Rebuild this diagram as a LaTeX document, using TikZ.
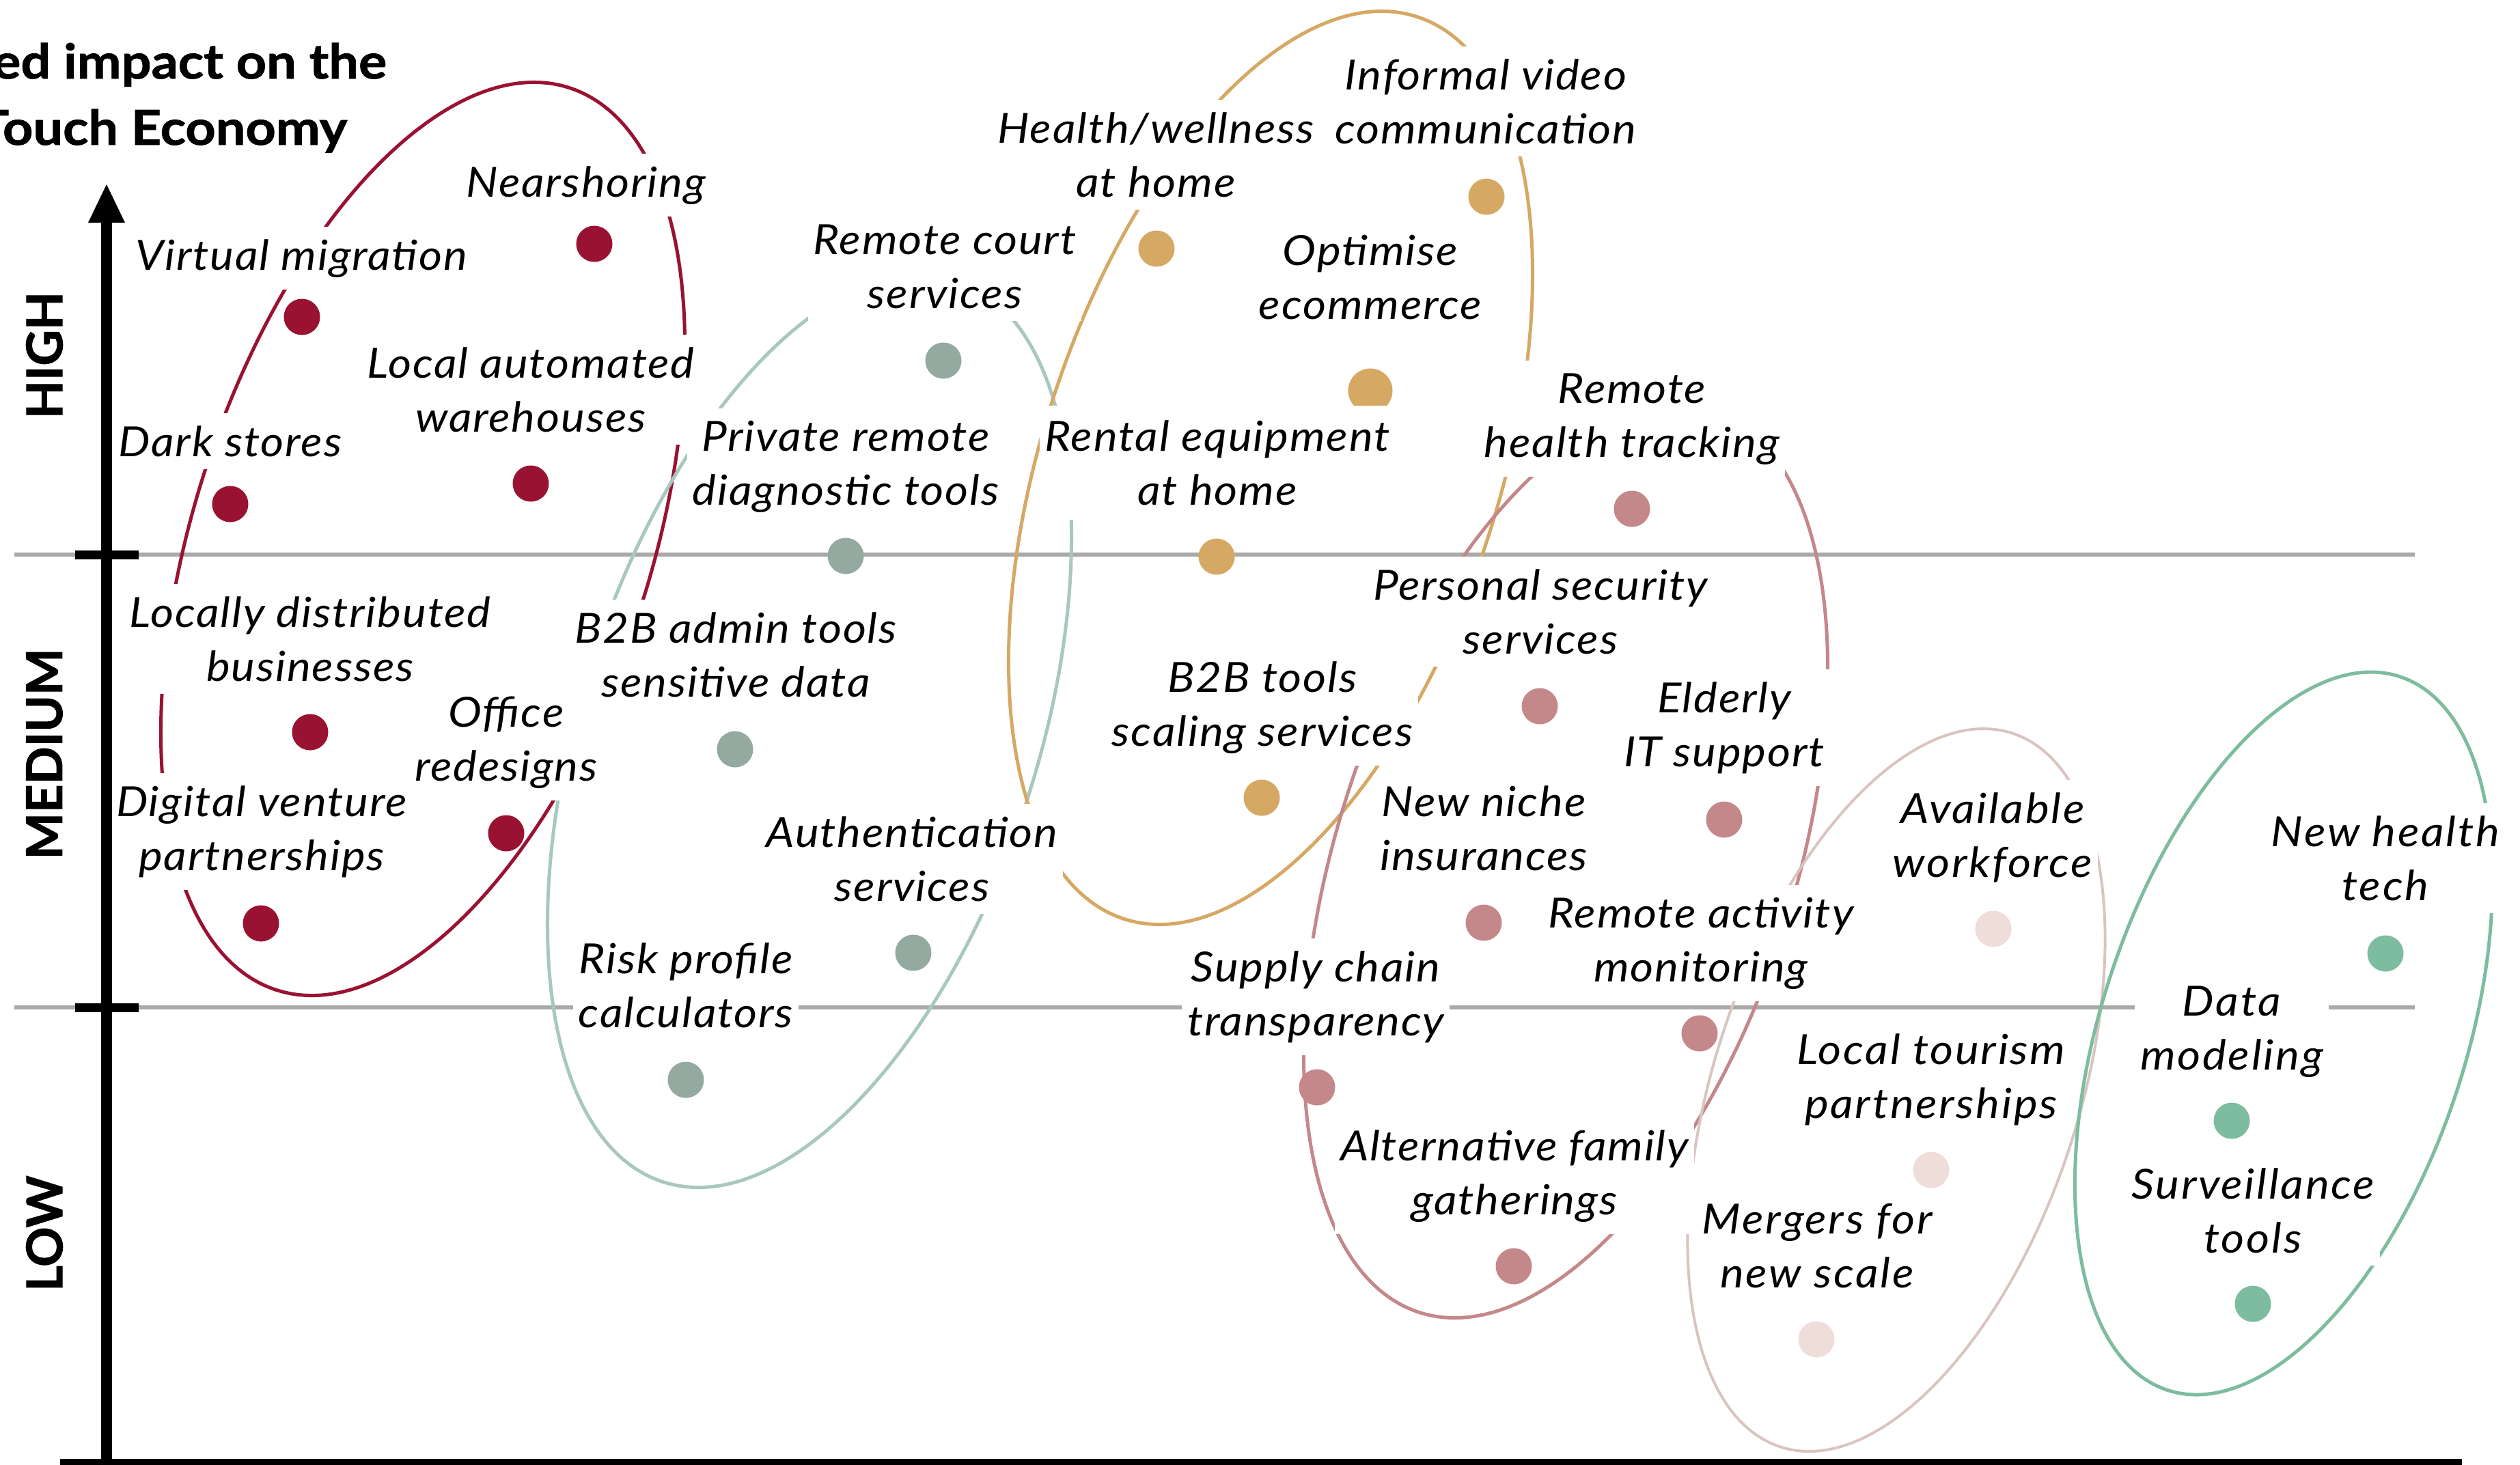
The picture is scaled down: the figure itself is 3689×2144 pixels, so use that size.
\documentclass[tikz,border=0pt]{standalone}
\usepackage{fontspec}
\setmainfont{Lato}
\definecolor{cRed}{HTML}{9A1232}
\definecolor{cSage}{HTML}{94AAA0}
\definecolor{cSageL}{HTML}{A9C8BD}
\definecolor{cGold}{HTML}{D5A864}
\definecolor{cMauve}{HTML}{C4888A}
\definecolor{cBlush}{HTML}{EFDDD9}
\definecolor{cBlushL}{HTML}{D9C4C0}
\definecolor{cTeal}{HTML}{7DBC9F}
\definecolor{cGrid}{HTML}{A9A9A9}
\newcommand\lblfont{\fontsize{17.3}{22.5}\selectfont\itshape\addfontfeatures{FakeStretch=1.08,LetterSpace=3}}
\newcommand\lblfontr{\fontsize{17.3}{22.5}\selectfont\itshape\addfontfeatures{FakeStretch=1.08,LetterSpace=4.5}}
\newcommand\titlefont{\fontsize{20}{24}\selectfont\bfseries\addfontfeatures{FakeStretch=1.1,FakeBold=1.2}}
\newcommand\axfont{\fontsize{20.6}{24}\selectfont\bfseries\addfontfeatures{FakeBold=1.5}}
\newcommand\twoline[2]{\vtop{\halign{\hfil##\hfil\cr#1\cr#2\cr}}}
\tikzset{
  lbl/.style={fill=white, inner xsep=0.08cm, inner ysep=0.18cm, anchor=base, font=\lblfont},
  lblr/.style={lbl, font=\lblfontr},
  blob/.style={circle, inner sep=0pt, minimum size=0.53cm, fill=#1},
  bigblob/.style={circle, inner sep=0pt, minimum size=0.65cm, fill=#1},
  ring/.style={line width=0.05cm, draw=#1},
  gridline/.style={line width=0.06cm, draw=cGrid},
  tick/.style={line width=0.13cm, draw=black},
}
\begin{document}
\begin{tikzpicture}[x=0.01cm, y=-0.01cm]
\useasboundingbox (0,0) rectangle (3689,2144);
% grid lines
\draw[gridline] (21,812) -- (3535,812);
\draw[gridline] (21,1475) -- (3535,1475);
% group ellipses
\draw[ring=cRed, shift={(619,789)}, rotate=72] (0,0) ellipse [x radius=6.94cm, y radius=3.34cm];
\draw[ring=cSageL, shift={(1185,1070)}, rotate=72] (0,0) ellipse [x radius=6.94cm, y radius=3.34cm];
\draw[ring=cGold, shift={(1860,685)}, rotate=72] (0,0) ellipse [x radius=6.94cm, y radius=3.34cm];
\draw[ring=cMauve, shift={(2292,1261)}, rotate=72] (0,0) ellipse [x radius=6.94cm, y radius=3.34cm];
\draw[ring=cBlushL, line width=0.04cm, shift={(2776,1596)}, rotate=72] (0,0) ellipse [x radius=5.49cm, y radius=2.67cm];
\draw[ring=cTeal, shift={(3343,1513)}, rotate=72] (0,0) ellipse [x radius=5.49cm, y radius=2.67cm];
% dots
\node[blob=cRed] (d1) at (442,464) {};
\node[blob=cRed] (d2) at (870,357) {};
\node[blob=cRed] (d3) at (337,738) {};
\node[blob=cRed] (d4) at (777,708) {};
\node[blob=cRed] (d5) at (454,1072) {};
\node[blob=cRed] (d6) at (741,1220) {};
\node[blob=cRed] (d7) at (382,1352) {};
\node[blob=cSage] (d8) at (1381,528) {};
\node[blob=cSage] (d9) at (1238,814) {};
\node[blob=cSage] (d10) at (1076,1097) {};
\node[blob=cSage] (d11) at (1337,1395) {};
\node[blob=cSage] (d12) at (1004,1581) {};
\node[blob=cGold] (d13) at (1693,364) {};
\node[blob=cGold] (d14) at (2176,288) {};
\node[bigblob=cGold] (d15) at (2006,572) {};
\node[blob=cGold] (d16) at (1781,815) {};
\node[blob=cGold] (d17) at (1847,1168) {};
\node[blob=cMauve] (d18) at (2389,745) {};
\node[blob=cMauve] (d19) at (2254,1034) {};
\node[blob=cMauve] (d20) at (2524,1200) {};
\node[blob=cMauve] (d21) at (2172,1351) {};
\node[blob=cMauve] (d22) at (2488,1513) {};
\node[blob=cMauve] (d23) at (1928,1592) {};
\node[blob=cMauve] (d24) at (2216,1854) {};
\node[blob=cBlush] (d25) at (2918,1360) {};
\node[blob=cBlush] (d26) at (2827,1713) {};
\node[blob=cBlush] (d27) at (2659,1961) {};
\node[blob=cTeal] (d28) at (3492,1396) {};
\node[blob=cTeal] (d29) at (3267,1641) {};
\node[blob=cTeal] (d30) at (3298,1909) {};
% labels
\node[lbl] (l1) at (441,395) {Virtual migration};
\node[lbl] (l2) at (858,288) {Nearshoring};
\node[lbl] (l3) at (337,668) {Dark stores};
\node[lbl] (l4) at (777,553) {\twoline{Local automated}{warehouses}};
\node[lbl] (l5) at (454,918) {\twoline{Locally distributed}{businesses}};
\node[lbl] (l6) at (741,1064) {\twoline{Office}{redesigns}};
\node[lbl] (l7) at (383,1195) {\twoline{Digital venture}{partnerships}};
\node[lbl] (l8) at (1383,372) {\twoline{Remote court}{services}};
\node[lbl] (l9) at (1238,660) {\twoline{Private remote}{diagnostic tools}};
\node[lbl] (l10) at (1077,941) {\twoline{B2B admin tools}{sensitive data}};
\node[lbl] (l11) at (1335,1240) {\twoline{Authentication}{services}};
\node[lbl] (l12) at (1004,1425) {\twoline{Risk profile}{calculators}};
\node[lbl] (l13) at (1692,209) {\twoline{Health/wellness}{at home}};
\node[lbl] (l14) at (2175,131) {\twoline{Informal video}{communication}};
\node[lbl] (l15) at (2006,388) {\twoline{Optimise}{ecommerce}};
\node[lbl, inner ysep=0.21cm] (l16) at (1782,660) {\twoline{Rental equipment}{at home}};
\node[lbl] (l17) at (1848,1013) {\twoline{B2B tools}{scaling services}};
\node[lbl] (l18) at (2389,590) {\twoline{Remote}{health tracking}};
\node[lbl] (l19) at (2255,878) {\twoline{Personal security}{services}};
\node[lbl] (l20) at (2524,1043) {\twoline{Elderly}{IT support}};
\node[lbl] (l21) at (2172,1195) {\twoline{New niche}{insurances}};
\node[lbl] (l22) at (2490,1358) {\twoline{Remote activity}{monitoring}};
\node[lbl] (l23) at (1926,1437) {\twoline{Supply chain}{transparency}};
\node[lbl] (l24) at (2217,1699) {\twoline{Alternative family}{gatherings}};
\node[lblr] (l25) at (2917,1205) {\twoline{Available}{workforce}};
\node[lblr] (l26) at (2827,1558) {\twoline{Local tourism}{partnerships}};
\node[lblr] (l27) at (2660,1806) {\twoline{Mergers for}{new scale}};
\node[lblr] (l28) at (3492,1239) {\twoline{New health}{tech}};
\node[lblr] (l29) at (3267,1487) {\twoline{Data}{modeling}};
\node[lblr] (l30) at (3298,1755) {\twoline{Surveillance}{tools}};
% axes
\draw[line width=0.15cm] (156,2150) -- (156,320);
\fill (129,326) -- (156,270) -- (183,326) -- cycle;
\draw[line width=0.12cm] (88,2142) -- (3604,2142);
\draw[tick] (110,812) -- (203,812);
\draw[tick] (110,1475) -- (203,1475);
% axis labels
\node[rotate=90, font=\axfont, inner sep=0pt] (high) at (65,520) {HIGH};
\node[rotate=90, font=\axfont, inner sep=0pt] (medium) at (65,1104) {MEDIUM};
\node[rotate=90, font=\axfont, inner sep=0pt] (low) at (65,1806) {LOW};
% title
\node[anchor=base east, font=\titlefont, inner sep=0pt] (t1) at (567,115) {ed impact on the};
\node[anchor=base east, font=\titlefont, inner sep=0pt] (t2) at (509,212) {Touch Economy};
\end{tikzpicture}
\end{document}
